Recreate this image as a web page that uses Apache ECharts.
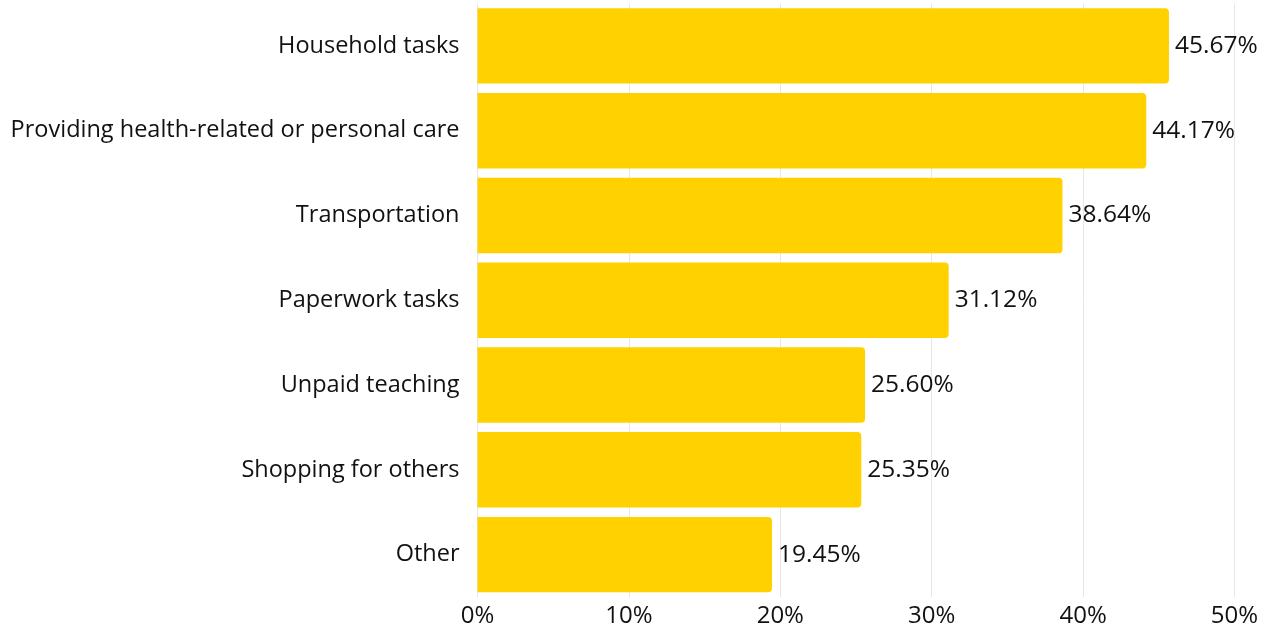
<!DOCTYPE html>
<html><head><meta charset="utf-8">
<script src="https://cdn.jsdelivr.net/npm/echarts@6/dist/echarts.min.js"></script>
<style>html,body{margin:0;padding:0;background:#fff}#c{width:1271px;height:632px}</style>
</head><body><div id="c"></div>
<script>
const categories = ["Household tasks","Providing health-related or personal care","Transportation","Paperwork tasks","Unpaid teaching","Shopping for others","Other"];
const values = [45.67, 44.17, 38.64, 31.12, 25.60, 25.35, 19.45];
const xTicks = [0, 10, 20, 30, 40, 50];

const chart = echarts.init(document.getElementById('c'), null, {renderer:'canvas'});
const font = 'Open Sans';
chart.setOption({
  animation:false,
  grid:{left:477.5, right:1271-1234.5, top:3.5, bottom:632-597, containLabel:false},
  xAxis:{type:'value', min:xTicks[0], max:xTicks[xTicks.length-1], interval:10,
    axisLine:{show:false}, axisTick:{show:false},
    splitLine:{show:true, lineStyle:{color:'#e6e6e6', width:1}},
    axisLabel:{formatter:v=>v+'%', color:'#111', fontSize:24, fontFamily:font, margin:7}},
  yAxis:{type:'category', data:categories, inverse:true,
    axisLine:{show:false}, axisTick:{show:false},
    axisLabel:{color:'#111', fontSize:23.5, fontFamily:font, margin:18}},
  series:[{type:'bar', data:values, barCategoryGap:'11%',
    itemStyle:{color:'#FFD100', borderRadius:[0,4,4,0]},
    label:{show:true, position:'right', distance:6, formatter:p=>p.value.toFixed(2)+'%',
      color:'#111', fontSize:24.5, fontFamily:font, padding:[3,0,0,0]}}]
});
</script></body></html>
